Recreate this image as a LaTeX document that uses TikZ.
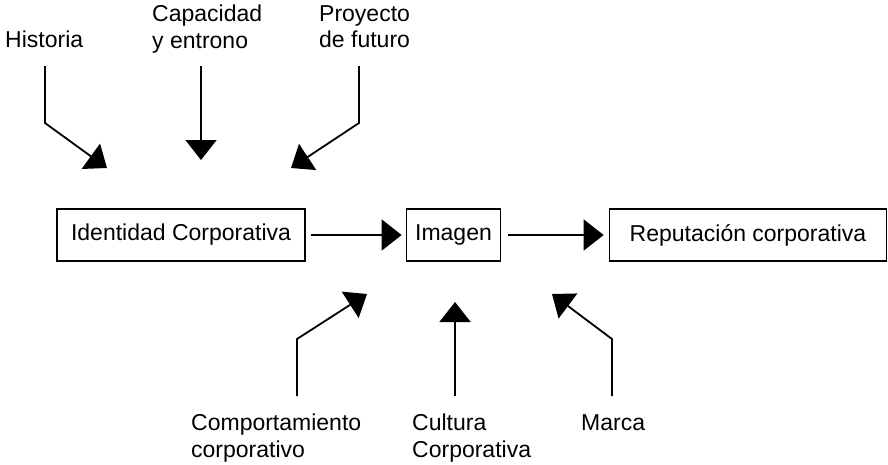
\documentclass[tikz,border=0pt]{standalone}
\usepackage{fontspec}
\setmainfont{Liberation Sans}
\usetikzlibrary{arrows.meta}
\begin{document}
\begin{tikzpicture}[x=1pt,y=-1pt,
  lbl/.style={anchor=north west, inner sep=0pt, align=left, font=\fontsize{23}{26.5}\selectfont},
  box/.style={draw, line width=1.7pt, minimum height=52pt, inner sep=0pt, font=\fontsize{23}{26}\selectfont},
  arr/.style={line width=1.8pt, -{Triangle[length=20pt,width=31pt]}}]
\useasboundingbox (0,0) rectangle (888,464);
% boxes
\node[box, minimum width=248pt] (id) at (181,235) {Identidad Corporativa};
\node[box, minimum width=94pt] (im) at (453.5,235) {Imagen};
\node[box, minimum width=277pt] (rep) at (748,235) {Reputación corporativa};
\draw[arr] ([xshift=5pt]id.east) -- ([xshift=-4pt]im.west);
\draw[arr] ([xshift=7pt]im.east) -- ([xshift=-5pt]rep.west);
% labels
\node[lbl] (hist) at (5,31) {Historia};
\node[lbl] (cap) at (152,5) {Capacidad\\y entrono};
\node[lbl] (proy) at (319,5) {Proyecto\\de futuro};
\node[lbl] (comp) at (191,414) {Comportamiento\\corporativo};
\node[lbl] (cult) at (412,414) {Cultura\\Corporativa};
\node[lbl] (marca) at (581,414) {Marca};
% top connectors
\coordinate (h0) at (45,66); \coordinate (h1) at (45,123); \coordinate (h2) at (107,168);
\coordinate (c0) at (201,66); \coordinate (c2) at (201,160);
\coordinate (p0) at (359,66); \coordinate (p1) at (359,123); \coordinate (p2) at (291,168);
\draw[arr] (h0) -- (h1) -- (h2);
\draw[arr] (c0) -- (c2);
\draw[arr] (p0) -- (p1) -- (p2);
% bottom connectors
\coordinate (k0) at (297,396); \coordinate (k1) at (297,339); \coordinate (k2) at (367,294);
\coordinate (u0) at (455,396); \coordinate (u2) at (455,302);
\coordinate (m0) at (612,396); \coordinate (m1) at (612,339); \coordinate (m2) at (552,294);
\draw[arr] (k0) -- (k1) -- (k2);
\draw[arr] (u0) -- (u2);
\draw[arr] (m0) -- (m1) -- (m2);
\end{tikzpicture}
\end{document}
